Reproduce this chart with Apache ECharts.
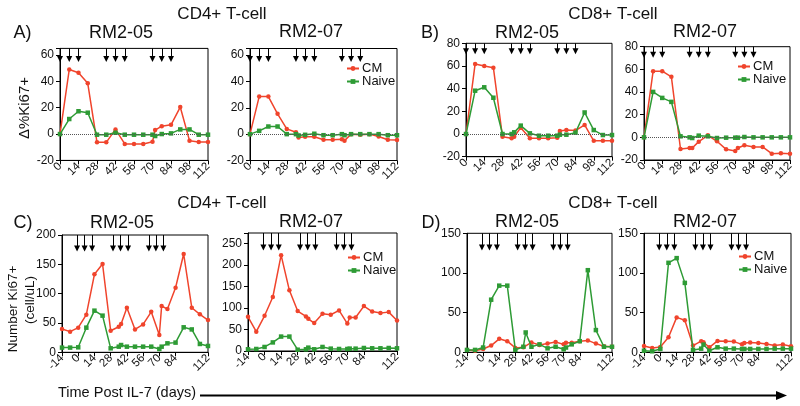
<!DOCTYPE html>
<html><head><meta charset="utf-8">
<script src="https://cdn.jsdelivr.net/npm/echarts@6/dist/echarts.min.js"></script>
<style>html,body{margin:0;padding:0;background:#fff}#c{width:800px;height:406px}</style>
</head><body><div id="c"></div>
<script>
// ---- data ----
const daysTop = [0,7,14,21,28,35,37,42,49,56,63,70,72,77,84,91,98,105,112];
const daysBottom = [-14,-7,0,7,14,21,28,35,37,42,49,56,63,70,72,77,84,91,98,105,112];
const dosesTop = [0,7,14,35,42,49,70,77,84];
const dosesBottom = [-1,5.5,12,30,36.5,43,61,67,73.5];

// Δ%Ki67+ (A: CD4, B: CD8)
const cd4_05_pct_CM    = [0,49,46.5,38.5,-6.3,-6.3,null,3.5,-7.5,-7.5,-7.5,-5.8,3,6,7,20.5,-5,-6,-6];
const cd4_05_pct_Naive = [0,11.4,17.3,16.2,-0.5,-0.5,null,1,-0.5,-0.5,-0.5,-0.5,-1.5,0,0.5,3.5,3.5,-0.5,-0.5];
const cd4_07_pct_CM    = [0,28.5,28.5,15.4,4,1.5,-2.5,-2,-2,-4.3,-4.3,-3.8,-5,0,-0.5,0,-1.8,-4.3,-4.5];
const cd4_07_pct_Naive = [0,2.5,5.8,5.8,0,0,-1,-0.5,0.3,-0.8,-0.8,0,-0.8,0,0,0,0,-0.8,-0.8];
const cd8_05_pct_CM    = [0,61.8,60,58.5,-2.4,-3.8,-2.4,5.6,-3.8,-3.8,-3.8,-3.2,2.6,3.5,3,8,-6,-6,-6];
const cd8_05_pct_Naive = [0,38.2,41.2,32,0,0,1.5,7.4,0.6,-1.5,-1.5,-1.5,-0.6,-0.6,1.2,19,3.5,-0.9,-0.9];
const cd8_07_pct_CM    = [0,58.4,58.4,53.4,-10.3,-9.4,-9.4,-3.8,1.8,-3.5,-10.6,-12,-9.4,-7,-8.5,-8.5,-14.4,-14.1,-14.4];
const cd8_07_pct_Naive = [0,40.1,34.8,31.3,0.9,0,-0.6,1.5,0.9,-0.6,-0.3,-0.3,-0.3,0.3,0,0,0,0,0];

// Number Ki67+ (cell/uL) (C: CD4, D: CD8)
const cd4_05_num_CM    = [39.8,35.2,42,64.2,133,150.6,36.8,43.6,48.2,76,39,47.5,69,29.5,79,73.7,110,167.6,76,64.8,55];
const cd4_05_num_Naive = [8,8,8.5,42,71,62.5,6.8,9.6,12.4,9.6,9.6,9.6,9.6,5.6,9.6,15.3,16.5,42.6,39,14.2,10.8];
const cd4_07_num_CM    = [79.7,45,82,125.8,223.4,141.4,93,80.5,75,65,86.7,84.4,94.5,64,78,78,104.7,92,88.3,90.6,71];
const cd4_07_num_Naive = [4,4.7,9.4,20,33.6,33.6,3,4,7.8,4,9.4,5.5,4.7,4.7,5.5,5.5,7,6.3,6.3,7,6.3];
const cd8_05_num_CM    = [3,2,4.2,8.5,17,14,5.5,6.3,null,12.5,9.2,11,13,10,12,12,14,15,11,7.5,7];
const cd8_05_num_Naive = [3,3,6,66.3,84,84,3,7,25,7,10,5,7,3.8,6,10,14,103.5,28,7,7];
const cd8_07_num_CM    = [8,5.5,6.8,19,44,40.5,8.5,14,12.7,6.3,14.4,14,13.5,10,11.8,12.3,11.8,10.6,8.5,9.7,7.6];
const cd8_07_num_Naive = [2,1.3,4.2,112.8,118.7,87.5,3,4.6,9.7,2,6.3,4.6,4.6,4.2,4.2,4.2,4.2,4.2,4.6,4.6,4.6];

const seriesNames = ['CM','Naive'];
const xTicksTop = [0,112,14];
const xTicksBottom = [-14,112,14];

// ---- layout / style ----
const FONT = '"Liberation Sans", Arial, Helvetica, sans-serif';
const RED = '#f0442c', GREEN = '#2e9b35', INK = '#111';

const panels = [
  {cm:cd4_05_pct_CM, nv:cd4_05_pct_Naive, days:daysTop, doses:dosesTop, box:[60,48.4,148,112], x:xTicksTop, y:[-20,65,20], arrow:[65,57], zero:true},
  {cm:cd4_07_pct_CM, nv:cd4_07_pct_Naive, days:daysTop, doses:dosesTop, box:[250,48.5,147,112], x:xTicksTop, y:[-20,65,20], arrow:[65,57], zero:true, legend:[346,62]},
  {cm:cd8_05_pct_CM, nv:cd8_05_pct_Naive, days:daysTop, doses:dosesTop, box:[466,43.3,146,113.4], x:xTicksTop, y:[-20,80,20], arrow:[80,73], zero:true},
  {cm:cd8_07_pct_CM, nv:cd8_07_pct_Naive, days:daysTop, doses:dosesTop, box:[644,46.7,146,113.3], x:xTicksTop, y:[-20,80,20], arrow:[80,73], zero:true, legend:[737,60]},
  {cm:cd4_05_num_CM, nv:cd4_05_num_Naive, days:daysBottom, doses:dosesBottom, box:[62,235,146,117.3], x:xTicksBottom, y:[0,200,50], arrow:[200,177]},
  {cm:cd4_07_num_CM, nv:cd4_07_num_Naive, days:daysBottom, doses:dosesBottom, box:[248,233,149,118], x:xTicksBottom, y:[0,275,50], arrow:[275,241], legend:[347,251]},
  {cm:cd8_05_num_CM, nv:cd8_05_num_Naive, days:daysBottom, doses:dosesBottom, box:[467,233.3,145,119], x:xTicksBottom, y:[0,150,50], arrow:[150,132]},
  {cm:cd8_07_num_CM, nv:cd8_07_num_Naive, days:daysBottom, doses:dosesBottom, box:[644,233.3,147,119], x:xTicksBottom, y:[0,150,50], arrow:[150,132], legend:[738,250]}
];

const grid = [], xAxis = [], yAxis = [], series = [], legend = [];
const pts = (days, vals) => days.map((d,j)=>[d, vals[j]]).filter(p => p[1] !== null);

panels.forEach((p,i) => {
  grid.push({left:p.box[0], top:p.box[1], width:p.box[2], height:p.box[3], show:true, borderColor:'#000', borderWidth:1, containLabel:false});
  xAxis.push({gridIndex:i, type:'value', min:p.x[0], max:p.x[1], interval:p.x[2],
    axisLine:{show:true, onZero:false, lineStyle:{color:'#000', width:1}},
    axisTick:{show:true, length:4, lineStyle:{color:'#000'}},
    axisLabel:{rotate:45, fontSize:11.5, color:INK, fontFamily:FONT, margin:4, showMaxLabel:true},
    splitLine:{show:false}});
  const iv = p.y[2];
  yAxis.push({gridIndex:i, type:'value', min:p.y[0], max:p.y[1], interval:iv,
    axisLine:{show:true, onZero:false, lineStyle:{color:'#000', width:1}},
    axisTick:{show:true, length:4, lineStyle:{color:'#000'}},
    axisLabel:{fontSize:12, color:INK, fontFamily:FONT, margin:6, formatter: v => (v % iv === 0 ? String(v) : '')},
    splitLine:{show:false}});
  series.push({type:'line', name:seriesNames[0], xAxisIndex:i, yAxisIndex:i, data:pts(p.days, p.cm),
    symbol:'circle', symbolSize:4.5, itemStyle:{color:RED}, lineStyle:{color:RED, width:1.5}, z:3,
    markLine:{silent:true, animation:false, symbol:['none','triangle'], symbolSize:6, label:{show:false},
      lineStyle:{color:'#000', width:1, type:'solid'}, emphasis:{disabled:true},
      data:p.doses.map(d => [{coord:[d, p.arrow[0]]}, {coord:[d, p.arrow[1]]}])}});
  const nv = {type:'line', name:seriesNames[1], xAxisIndex:i, yAxisIndex:i, data:pts(p.days, p.nv),
    symbol:'rect', symbolSize:4.5, itemStyle:{color:GREEN}, lineStyle:{color:GREEN, width:1.5}, z:4};
  if (p.zero) nv.markLine = {silent:true, animation:false, symbol:'none', label:{show:false},
      lineStyle:{color:'#555', width:1, type:'dotted'}, emphasis:{disabled:true}, data:[{yAxis:0}]};
  series.push(nv);
  if (p.legend) legend.push({orient:'vertical', left:p.legend[0], top:p.legend[1], padding:0, itemGap:0,
    itemWidth:12, itemHeight:6, selectedMode:false, data:seriesNames,
    textStyle:{fontSize:13, fontFamily:FONT, color:INK, lineHeight:12, padding:[0,0,0,-2]}});
});

const txt = (text, x, y, size, align) => ({type:'text', x, y, silent:true,
  style:{text, font:size+'px '+FONT, fill:INK, align:align||'center', textAlign:align||'center', verticalAlign:'middle', textVerticalAlign:'middle'}});
const vtxt = (text, x, y, size) => Object.assign(txt(text, x, y, size), {rotation:Math.PI/2});

const graphic = [
  txt('CD4+ T-cell', 222, 14, 17), txt('CD8+ T-cell', 613, 14, 17),
  txt('CD4+ T-cell', 222, 203, 17), txt('CD8+ T-cell', 613, 203, 17),
  txt('A)', 22.5, 33, 18), txt('B)', 430, 33, 18), txt('C)', 23, 223, 18), txt('D)', 431, 223, 18),
  txt('RM2-05', 121, 33, 18), txt('RM2-07', 311, 32, 18), txt('RM2-05', 527, 33, 18), txt('RM2-07', 705, 32, 18),
  txt('RM2-05', 122, 223, 18), txt('RM2-07', 311, 222, 18), txt('RM2-05', 527, 222, 18), txt('RM2-07', 705, 222, 18),
  vtxt('Δ%Ki67+', 25, 108, 15), vtxt('Number Ki67+', 13, 309, 13.5), vtxt('(cell/uL)', 30, 300, 13.5),
  txt('Time Post IL-7 (days)', 58, 393, 14.5, 'left'),
  {type:'line', silent:true, shape:{x1:200, y1:395.5, x2:778, y2:395.5}, style:{stroke:'#000', lineWidth:2}},
  {type:'polygon', silent:true, shape:{points:[[776,391],[787,395.5],[776,400]]}, style:{fill:'#000'}}
];

const chart = echarts.init(document.getElementById('c'), null, {renderer:'canvas'});
chart.setOption({animation:false, backgroundColor:'#fff', textStyle:{fontFamily:FONT},
  grid, xAxis, yAxis, series, legend, graphic});
</script></body></html>
